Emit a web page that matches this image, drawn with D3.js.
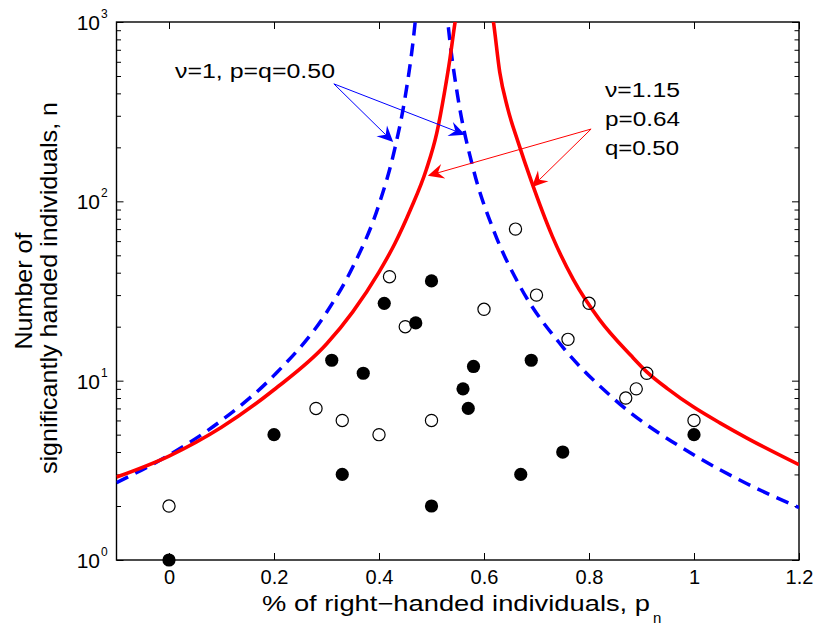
<!DOCTYPE html>
<html><head><meta charset="utf-8">
<script src="https://cdn.jsdelivr.net/npm/d3@7"></script>
<style>
body{margin:0;background:#fff}
text{font-family:"Liberation Sans",Arial,Helvetica,sans-serif;fill:#000}
</style>
</head><body>
<svg id="chart" width="815" height="627"></svg>
<script>
// ---------- data ----------
const xTicks = [0, 0.2, 0.4, 0.6, 0.8, 1, 1.2];
const xTickLabels = ["0", "0.2", "0.4", "0.6", "0.8", "1", "1.2"];
const yTicks = [1, 10, 100, 1000];
const yTickExponents = ["0", "1", "2", "3"];

// filled markers
const filledX = [0, 0.2, 0.31, 0.33, 0.37, 0.41, 0.47, 0.5, 0.5, 0.56, 0.57, 0.58, 0.67, 0.69, 0.75, 1.0];
const filledN = [1, 5, 13, 3, 11, 27, 21, 36, 2, 9, 7, 12, 3, 13, 4, 5];
// open markers
const openX = [0, 0.28, 0.33, 0.4, 0.42, 0.45, 0.5, 0.6, 0.66, 0.7, 0.76, 0.8, 0.87, 0.89, 0.91, 1.0];
const openN = [2, 7, 6, 5, 38, 20, 6, 25, 70, 30, 17, 27, 8, 9, 11, 6];

// blue dashed curve (nu=1, p=q=0.50)
const blueLeftX  = [-0.1, 0, 0.1, 0.2, 0.3, 0.35, 0.4, 0.43, 0.45, 0.465, 0.472];
const blueLeftN  = [2.7, 3.85, 6.0, 10.7, 24, 43, 96, 196, 384, 784, 1225];
const blueRightX = [0.528, 0.535, 0.55, 0.58, 0.62, 0.67, 0.75, 0.85, 1.0, 1.1, 1.2];
const blueRightN = [1225, 784, 384, 150, 67, 33, 15.4, 7.8, 3.85, 2.67, 1.96];

// red solid curve (nu=1.15, p=0.64, q=0.50)
const redLeftX  = [-0.1, 0, 0.1, 0.2, 0.3, 0.35, 0.4, 0.43, 0.46, 0.49, 0.51, 0.525, 0.535, 0.545, 0.552];
const redLeftN  = [2.9, 3.8, 5.5, 8.9, 16, 24.2, 40.3, 58, 90, 150, 240, 410, 620, 1000, 1300];
const redRightX = [0.612, 0.618, 0.63, 0.645, 0.665, 0.69, 0.73, 0.77, 0.82, 0.88, 0.91, 0.95, 1.0, 1.05, 1.1, 1.2];
const redRightN = [1300, 1000, 525, 331, 214, 130, 64, 36.7, 21.9, 13.8, 11.2, 9.0, 7.1, 5.8, 4.8, 3.4];

// annotation / label texts
const blueLabel = "ν=1, p=q=0.50";
const redLabels = ["ν=1.15", "p=0.64", "q=0.50"];
const xLabel = "% of right−handed individuals, p";
const xLabelSub = "n";
const yLabelLines = ["Number of", "significantly handed individuals, n"];

// ---------- layout ----------
const svg = d3.select("#chart");
const x = d3.scaleLinear().domain([-0.1, 1.2]).range([116.5, 799]);
const y = d3.scaleLog().domain([1, 1000]).range([560, 22]);

svg.append("defs").append("clipPath").attr("id", "clip")
  .append("rect").attr("x", x(-0.1)).attr("y", y(1000))
  .attr("width", x(1.2) - x(-0.1)).attr("height", y(1) - y(1000));

// ---------- axes ----------
const fmt = d => xTickLabels[xTicks.indexOf(d)];
const gx = svg.append("g").attr("transform", `translate(0,${y(1)})`)
  .call(d3.axisBottom(x).tickValues(xTicks).tickSize(-7).tickPadding(10).tickFormat(fmt));
gx.select(".domain").remove();
gx.selectAll("text").attr("font-size", 20).attr("font-family", "Liberation Sans, Arial, sans-serif");

const gxt = svg.append("g").attr("transform", `translate(0,${y(1000)})`)
  .call(d3.axisTop(x).tickValues(xTicks).tickSize(-7).tickFormat(""));
gxt.select(".domain").remove();

const minorY = [];
[1, 10, 100].forEach(b => { for (let k = 2; k <= 9; k++) minorY.push(b * k); });

const gyl = svg.append("g").attr("transform", `translate(${x(-0.1)},0)`)
  .call(d3.axisLeft(y).tickValues(yTicks).tickSize(-7).tickFormat(""));
gyl.select(".domain").remove();
const gylm = svg.append("g").attr("transform", `translate(${x(-0.1)},0)`)
  .call(d3.axisLeft(y).tickValues(minorY).tickSize(-4.5).tickFormat(""));
gylm.select(".domain").remove();
const gyr = svg.append("g").attr("transform", `translate(${x(1.2)},0)`)
  .call(d3.axisRight(y).tickValues(yTicks).tickSize(-7).tickFormat(""));
gyr.select(".domain").remove();
const gyrm = svg.append("g").attr("transform", `translate(${x(1.2)},0)`)
  .call(d3.axisRight(y).tickValues(minorY).tickSize(-4.5).tickFormat(""));
gyrm.select(".domain").remove();
svg.selectAll(".tick line").attr("stroke", "#000").attr("stroke-width", 1);

// y tick labels 10^k
const yl = svg.append("g");
yTicks.forEach((d, i) => {
  yl.append("text").attr("x", 100).attr("y", y(d) + 8).attr("text-anchor", "end")
    .attr("font-size", 21).text("10");
  yl.append("text").attr("x", 101).attr("y", y(d) - 4).attr("text-anchor", "start")
    .attr("font-size", 12).text(yTickExponents[i]);
});

// frame
svg.append("rect").attr("x", x(-0.1)).attr("y", y(1000))
  .attr("width", x(1.2) - x(-0.1)).attr("height", y(1) - y(1000))
  .attr("fill", "none").attr("stroke", "#000").attr("stroke-width", 1.4);

// ---------- curves ----------
const line = d3.line().x(d => x(d[0])).y(d => y(d[1])).curve(d3.curveMonotoneX);
const zip = (a, b) => a.map((v, i) => [v, b[i]]);
const curves = svg.append("g").attr("clip-path", "url(#clip)");
[[blueLeftX, blueLeftN], [blueRightX, blueRightN]].forEach(([a, b]) => {
  curves.append("path").attr("d", line(zip(a, b))).attr("fill", "none")
    .attr("stroke", "#0000ff").attr("stroke-width", 3.5).attr("stroke-dasharray", "13,8");
});
[[redLeftX, redLeftN], [redRightX, redRightN]].forEach(([a, b]) => {
  curves.append("path").attr("d", line(zip(a, b))).attr("fill", "none")
    .attr("stroke", "#ff0000").attr("stroke-width", 3.6);
});

// ---------- markers ----------
svg.append("g").selectAll("circle").data(zip(filledX, filledN)).join("circle")
  .attr("cx", d => x(d[0])).attr("cy", d => y(d[1])).attr("r", 6.6).attr("fill", "#000");
svg.append("g").selectAll("circle").data(zip(openX, openN)).join("circle")
  .attr("cx", d => x(d[0])).attr("cy", d => y(d[1])).attr("r", 6.1)
  .attr("fill", "none").attr("stroke", "#000").attr("stroke-width", 1.2);

// ---------- annotations ----------
function arrow(x0, y0, x1, y1, color) {
  const px0 = x(x0), py0 = y(y0), px1 = x(x1), py1 = y(y1);
  const ang = Math.atan2(py1 - py0, px1 - px0);
  const L = 16, W = 7.5, notch = 10.5;
  const c = Math.cos(ang), s = Math.sin(ang);
  const bx = px1 - L * c, by = py1 - L * s;
  const nx = px1 - notch * c, ny = py1 - notch * s;
  svg.append("line").attr("x1", px0).attr("y1", py0).attr("x2", nx).attr("y2", ny)
    .attr("stroke", color).attr("stroke-width", 1);
  const pts = [[px1, py1], [bx - W * s, by + W * c], [nx, ny], [bx + W * s, by - W * c]];
  svg.append("path").attr("d", "M" + pts.map(p => p.join(",")).join("L") + "Z").attr("fill", color);
}
arrow(0.314, 452, 0.427, 214, "#0000ff");
arrow(0.314, 452, 0.564, 235, "#0000ff");
arrow(0.804, 253, 0.493, 139, "#ff0000");
arrow(0.804, 253, 0.691, 120, "#ff0000");

svg.append("text").attr("x", 175).attr("y", 78).attr("font-size", 20)
  .attr("textLength", 160).attr("lengthAdjust", "spacingAndGlyphs").text(blueLabel);
const redW = [75, 75, 74];
redLabels.forEach((t, i) => {
  svg.append("text").attr("x", 605).attr("y", 97 + i * 29).attr("font-size", 20)
    .attr("textLength", redW[i]).attr("lengthAdjust", "spacingAndGlyphs").text(t);
});

// axis labels
svg.append("text").attr("x", 262).attr("y", 611).attr("font-size", 22)
  .attr("textLength", 388).attr("lengthAdjust", "spacingAndGlyphs").text(xLabel);
svg.append("text").attr("x", 653).attr("y", 623).attr("font-size", 15).text(xLabelSub);

svg.append("text").attr("transform", "translate(32,291) rotate(-90)").attr("text-anchor", "middle")
  .attr("font-size", 24).attr("textLength", 117).attr("lengthAdjust", "spacingAndGlyphs").text(yLabelLines[0]);
svg.append("text").attr("transform", "translate(57,288) rotate(-90)").attr("text-anchor", "middle")
  .attr("font-size", 24).attr("textLength", 372).attr("lengthAdjust", "spacingAndGlyphs").text(yLabelLines[1]);
</script>
</body></html>
